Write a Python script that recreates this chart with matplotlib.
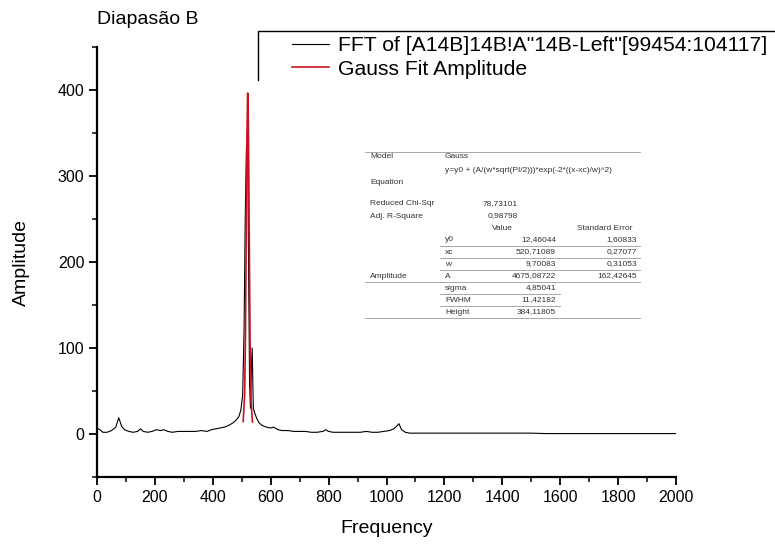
'''
Recreate the Origin-style FFT plot of tuning fork B ("Diapasão B"),
with the Gauss fit of the main peak and the fit report table.
'''

import matplotlib
matplotlib.use('Agg')
import matplotlib.pyplot as plt
from matplotlib.lines import Line2D
from matplotlib.ticker import MultipleLocator


# DATA

# FFT amplitude spectrum
fft_freq = [0, 10, 20, 35, 50, 65, 75, 85, 95, 110, 125, 140, 150, 160, 175,
            190, 205, 220, 230, 245, 260, 280, 300, 320, 340, 360, 380, 395,
            410, 425, 440, 455, 470, 480, 490, 497, 503, 508, 512, 516, 520,
            524, 527, 530, 533, 536, 540, 545, 552, 560, 570, 585, 600, 610,
            625, 640, 660, 680, 700, 720, 740, 760, 780, 790, 800, 815, 830,
            850, 870, 890, 910, 930, 950, 970, 990, 1010, 1025, 1035, 1043,
            1052, 1065, 1080, 1100, 1130, 1160, 1200, 1250, 1300, 1350, 1400,
            1450, 1500, 1550, 1600, 1650, 1700, 1750, 1800, 1850, 1900, 1950,
            2000]
fft_amp = [7, 5, 2, 2, 4, 8, 19, 9, 5, 3, 2, 3, 6, 3, 2,
           3, 5, 4, 5, 3, 2, 3, 3, 3, 3, 4, 3, 5,
           6, 7, 8, 10, 13, 16, 20, 28, 45, 120, 250, 330, 355,
           180, 60, 30, 75, 100, 30, 24, 18, 13, 10, 8, 7, 8,
           5, 4, 4, 3, 3, 3, 2, 2, 3, 5, 3, 2, 2,
           2, 2, 2, 2, 3, 2, 2, 3, 4, 6, 9, 12,
           5, 2, 1, 1, 1, 1, 1, 1, 1, 1, 1,
           1, 1, 0.5, 0.5, 0.5, 0.5, 0.5, 0.5, 0.5, 0.5, 0.5,
           0.5]

# Gauss fit curve around the peak
fit_freq = [505, 510, 513, 516, 518, 520, 520.7, 522, 524, 526, 529, 532, 537]
fit_amp = [14.5, 46, 121, 253, 341, 392, 396.5, 383, 317, 224, 101, 38, 14]

# fit report
STATS_LABELS = ['Reduced Chi-Sqr', 'Adj. R-Square']
STATS_VALUES = ['78,73101', '0,98798']
PARAM_NAMES = ['y0', 'xc', 'w', 'A', 'sigma', 'FWHM', 'Height']
PARAM_VALUES = ['12,46044', '520,71089', '9,70083', '4675,08722',
                '4,85041', '11,42182', '384,11805']
PARAM_ERRORS = ['1,60833', '0,27077', '0,31053', '162,42645', '', '', '']

LEGEND_LABELS = ['FFT of [A14B]14B!A"14B-Left"[99454:104117]',
                 'Gauss Fit Amplitude']

RED = '#cc1020'


# STYLE

plt.rcParams['font.family'] = ['Liberation Sans', 'DejaVu Sans']

W, H = 775, 550


def fx(px):
    return px / W


def fy(py):
    return 1 - py / H


fig = plt.figure(figsize=(W / 100, H / 100), dpi=100)
ax = fig.add_axes([fx(97), fy(477), fx(676) - fx(97), fy(47) - fy(477)])

ax.plot(fft_freq, fft_amp, color='black', lw=0.8)
ax.plot(fit_freq, fit_amp, color=RED, lw=1.2)

ax.set_xlim(0, 2000)
ax.set_ylim(-50, 450)
ax.xaxis.set_major_locator(MultipleLocator(200))
ax.xaxis.set_minor_locator(MultipleLocator(100))
ax.set_yticks([0, 100, 200, 300, 400])
ax.yaxis.set_minor_locator(MultipleLocator(50))

for side in ['top', 'right']:
    ax.spines[side].set_visible(False)
for side in ['left', 'bottom']:
    ax.spines[side].set_linewidth(1.6)
ax.tick_params(which='major', direction='out', length=6, width=1.3,
               labelsize=11.5, pad=3)
ax.tick_params(which='minor', direction='out', length=3.5, width=1.1)

ax.set_xlabel('Frequency', fontsize=14, labelpad=11)
ax.set_ylabel('Amplitude', fontsize=14, labelpad=20)

fig.text(fx(97), fy(19), 'Diapasão B', fontsize=14, va='center', ha='left')

# legend: white box with only top and left edges, running off the right side
fig.patches.append(plt.Rectangle((fx(258), fy(80)), fx(560), fy(31) - fy(80),
                                 transform=fig.transFigure, facecolor='white',
                                 edgecolor='none'))
fig.add_artist(Line2D([fx(258), fx(258), 1.0], [fy(80), fy(31), fy(31)],
                      color='black', lw=1.0))
handles = [Line2D([], [], color='black', lw=0.8),
           Line2D([], [], color=RED, lw=1.2)]
fig.legend(handles, LEGEND_LABELS, loc='upper left',
           bbox_to_anchor=(fx(290), fy(34)), fontsize=15.2,
           frameon=False, handlelength=1.75, handletextpad=0.4,
           labelspacing=0.22, borderpad=0.1, borderaxespad=0)


# FIT REPORT TABLE

TXT = dict(fontsize=6, color='#333333', va='center')
LINE = dict(color='#999999', lw=0.6)


def hline(y, x0, x1):
    fig.add_artist(Line2D([fx(x0), fx(x1)], [fy(y), fy(y)], **LINE))


fig.patches.append(plt.Rectangle((fx(365), fy(318)), fx(640) - fx(365),
                                 fy(150) - fy(318), transform=fig.transFigure,
                                 facecolor='white', edgecolor='none'))

hline(152, 365, 640)
fig.text(fx(370), fy(157), 'Model', **TXT)
fig.text(fx(445), fy(157), 'Gauss', **TXT)
fig.text(fx(445), fy(170), 'y=y0 + (A/(w*sqrt(PI/2)))*exp(-2*((x-xc)/w)^2)', **TXT)
fig.text(fx(370), fy(183), 'Equation', **TXT)

for i, (lab, val) in enumerate(zip(STATS_LABELS, STATS_VALUES)):
    y = 204 + i * 12
    fig.text(fx(370), fy(y), lab, **TXT)
    fig.text(fx(518), fy(y), val, ha='right', **TXT)

fig.text(fx(502), fy(228), 'Value', ha='center', **TXT)
fig.text(fx(605), fy(228), 'Standard Error', ha='center', **TXT)

for i, (name, val, err) in enumerate(zip(PARAM_NAMES, PARAM_VALUES, PARAM_ERRORS)):
    y = 240 + i * 12
    fig.text(fx(445), fy(y), name, **TXT)
    fig.text(fx(556), fy(y), val, ha='right', **TXT)
    if err:
        fig.text(fx(637), fy(y), err, ha='right', **TXT)
    if i < len(PARAM_NAMES) - 1:
        x0 = 365 if i == 3 else 440
        x1 = 640 if i < 4 else 560
        hline(y + 6, x0, x1)
fig.text(fx(370), fy(276), 'Amplitude', **TXT)
hline(318, 365, 640)

plt.savefig('out.png', dpi=100)
